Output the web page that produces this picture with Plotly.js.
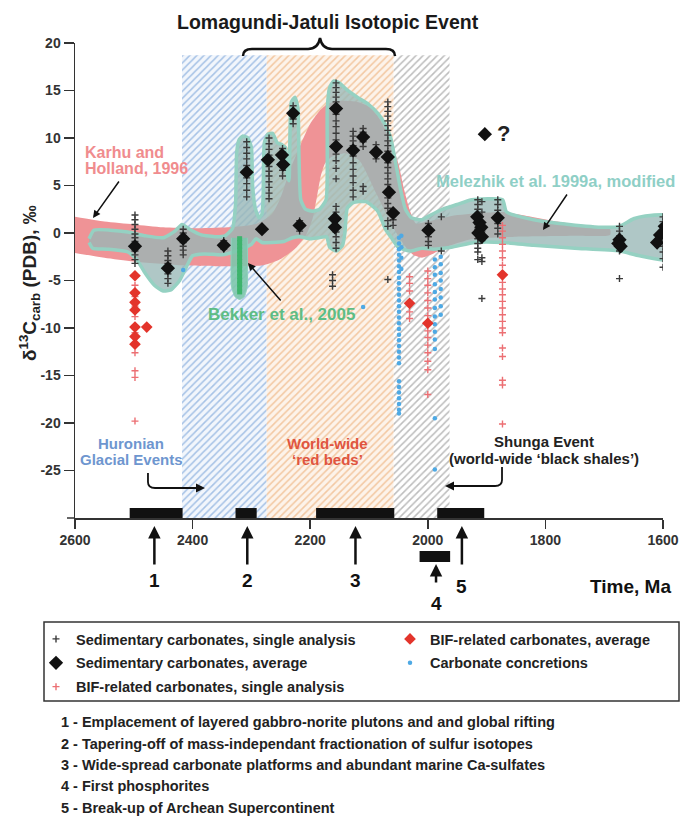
<!DOCTYPE html>
<html><head><meta charset="utf-8">
<script src="https://cdn.plot.ly/plotly-3.0.1.min.js"></script>
<style>html,body{margin:0;padding:0;background:#fff;}#chart{width:686px;height:827px;}</style>
</head><body><div id="chart"></div>
<script>
// ---------------- DATA ----------------
const xTicks = [2600, 2400, 2200, 2000, 1800, 1600];
const yTicks = [-25, -20, -15, -10, -5, 0, 5, 10, 15, 20];

// hatched time intervals (Ma)
const bandNames = ['Huronian Glacial Events', "World-wide 'red beds'", 'Shunga Event'];
const bandStart = [2418, 2274, 2058];
const bandEnd   = [2274, 2058, 1963];
const bandTop = 18.7;

// Karhu and Holland, 1996 envelope [age, d13C]
const karhuUpper = [[2600,1.7],[2550,1.2],[2500,0.9],[2450,0.6],[2400,0.5],[2340,0.6],[2290,1.0],[2265,2.0],[2250,3.8],[2235,6.5],[2215,9.5],[2200,11.5],[2185,12.8],[2170,13.6],[2150,13.9],[2120,13.8],[2100,13.3],[2085,12.3],[2072,10.8],[2062,9.5],[2050,7.3],[2040,4.5],[2030,2.3],[2020,1.0],[2000,1.2],[1960,1.8],[1910,2.1],[1873,2.2],[1840,1.9],[1780,1.2],[1720,0.6],[1690,0.4]];
const karhuLower = [[2600,-2.1],[2550,-2.6],[2500,-3.0],[2420,-3.4],[2350,-3.5],[2280,-3.4],[2252,-2.8],[2225,-1.6],[2207,-0.2],[2196,1.5],[2188,4.0],[2182,6.0],[2175,7.3],[2164,8.0],[2140,8.4],[2116,7.6],[2088,4.2],[2060,0.7],[2040,-1.3],[2025,-2.3],[2010,-2.6],[1995,-2.3],[1970,-1.5],[1930,-0.7],[1850,-0.4],[1750,-0.3],[1690,-0.2]];

// Melezhik et al. 1999a (modified) envelope
const melUpper = [[2576,-0.6],[2568,0.3],[2540,0.3],[2510,0.1],[2480,-0.3],[2450,-0.5],[2430,0.2],[2418,0.9],[2405,0.4],[2385,-0.2],[2360,-0.4],[2345,-0.3],[2332,0.5],[2327,3.0],[2325,8.5],[2321,9.8],[2315,10.2],[2306,10.0],[2300,9.0],[2298,5.0],[2293,2.5],[2287,1.6],[2282,2.0],[2280,4.0],[2278,9.5],[2272,10.4],[2264,10.5],[2256,9.5],[2248,9.3],[2242,9.0],[2239,6.0],[2236,5.5],[2235,8.0],[2232,13.8],[2226,14.3],[2221,13.2],[2219,8.0],[2216,3.5],[2208,2.5],[2196,2.3],[2184,2.5],[2173,3.5],[2171,13.0],[2167,15.3],[2160,16.0],[2150,15.8],[2140,15.2],[2120,14.3],[2100,13.5],[2085,12.6],[2073,11.5],[2063,10.0],[2055,7.5],[2046,4.5],[2038,2.5],[2028,1.6],[2010,1.4],[1995,1.9],[1975,2.5],[1950,3.0],[1925,3.5],[1873,3.5],[1866,2.2],[1820,1.4],[1760,0.9],[1700,0.6],[1674,0.7],[1650,1.5],[1630,1.8],[1590,1.8]];
const melLower = [[2576,-1.0],[2570,-1.6],[2545,-1.7],[2510,-2.0],[2495,-2.8],[2480,-4.3],[2465,-5.5],[2450,-6.1],[2437,-6.0],[2422,-5.0],[2410,-3.5],[2400,-2.4],[2380,-2.2],[2350,-2.3],[2330,-2.0],[2310,-1.5],[2300,-1.2],[2292,-0.6],[2282,-1.0],[2265,-1.0],[2245,-0.9],[2230,-0.5],[2218,-0.4],[2200,-0.6],[2185,-0.5],[2172,-0.4],[2167,-1.5],[2155,-1.9],[2145,-1.3],[2141,0.0],[2137,2.6],[2127,3.2],[2105,3.3],[2085,2.3],[2072,0.4],[2062,-0.5],[2050,-1.5],[2030,-1.9],[2010,-1.6],[1990,-1.7],[1960,-1.5],[1920,-1.0],[1873,-1.0],[1820,-1.3],[1750,-1.6],[1674,-1.9],[1640,-2.4],[1590,-2.8]];

// Bekker et al., 2005
const bekkerFinger = [[2334,-0.5],[2334,-5.6],[2328,-6.7],[2320,-7.0],[2312,-6.7],[2307,-5.6],[2307,-0.5]];
const bekkerAge = 2320;
const bekkerValues = [-0.6,-1.0,-1.4,-1.8,-2.2,-2.6,-3.0,-3.4,-3.8,-4.2,-4.6,-5.0,-5.4,-5.8,-6.2];

// Sedimentary carbonates, single analysis (columns by age)
const sedSingleAges = [2498,2442,2416,2347,2308,2270,2247,2229,2218,2156,2162,2127,2110,2088,2068,2059,1999,1977,1915,1908,1881,1674,1600];
const sedSingleValues = [
  [1.9,1.4,0.9,0.4,-0.1,-0.5,-0.9,-1.9,-2.3,-2.8,-3.2],
  [-1.9,-2.4,-2.9,-3.2,-4.3,-4.8,-5.3],
  [0.4,0.0,-0.3,-1.0,-1.4,-1.8,-2.3],
  [-0.8,-1.7],
  [9.6,9.0,8.4,7.8,7.1,5.8,5.2,4.5,3.8],
  [10.0,9.4,8.8,8.2,7.0,6.5,6.0,5.4,4.8,4.2,3.6],
  [8.9,8.5,6.6,6.0],
  [13.4,12.0,11.5],
  [1.3,0.2],
  [15.8,15.3,14.8,14.3,13.8,12.5,11.8,11.2,10.5,9.8,8.3,7.6,6.8,5.7,2.8,2.2,1.6,0.1,-0.4,-1.0,-1.6],
  [-4.4,-5.0,-5.6],
  [10.7,10.2,9.7,9.2,8.1,7.4,6.7,6.0,5.3,4.5,3.8],
  [11.0,10.6,9.6,9.1,4.9,4.4],
  [9.3,7.8],
  [13.8,13.3,12.8,12.3,11.8,11.3,10.8,10.3,9.7,9.2,8.6,7.4,6.9,6.3,5.7,5.1,3.7,3.1,2.6,1.3,0.7,-4.9],
  [1.4,0.8],
  [1.0,-0.4,-0.9,-1.3],
  [1.7,-1.9],
  [3.5,3.0,2.5,2.0,1.4,0.9,0.4,-0.1,-0.6,-1.1,-1.6,-2.0,-2.8],
  [3.3,2.2,0.2,-0.8,-2.6,-3.0,-6.9],
  [3.5,3.0,2.4,1.0,0.5,-0.1],
  [0.7,0.2,-0.3,-1.9,-4.8],
  [1.7,1.2,0.2,-0.5,-1.4,-2.0,-2.7,-3.6]
];

// Sedimentary carbonates, average
const sedAvgAge = [2498,2442,2416,2347,2308,2282,2272,2248,2246,2229,2218,2156,2156,2158,2158,2127,2110,2088,2068,2066,2059,1999,1916,1912,1909,1914,1908,1881,1674,1676,1672,1597,1605,1610,1903];
const sedAvgVal = [-1.4,-3.7,-0.6,-1.3,6.4,0.4,7.7,8.2,7.2,12.6,0.8,13.1,9.1,1.5,0.6,8.7,10.1,8.5,8.0,4.3,2.1,0.3,1.7,1.1,0.6,0.0,-0.4,1.6,-0.7,-1.1,-1.4,0.7,-0.2,-1.0,10.4];

// BIF-related carbonates, single analysis
const bifSingleAges = [2498,2031,2000,1873];
const bifSingleValues = [
  [-5.5,-6.7,-7.7,-8.8,-10.5,-12.6,-14.5,-15.2,-19.8],
  [-4.6,-5.3,-6.1,-8.3,-9.0],
  [-4.0,-4.8,-5.5,-6.3,-7.1,-7.9,-8.7,-10.3,-11.0,-11.8,-12.6,-13.5,-14.4,-17.0],
  [0.8,0.2,-0.5,-1.2,-1.9,-2.6,-3.4,-5.2,-5.9,-6.5,-7.2,-7.9,-8.6,-9.3,-10.0,-10.5,-12.1,-13.0,-15.5,-16.0,-20.1]
];

// BIF-related carbonates, average
const bifAvgAge = [2498,2498,2498,2498,2498,2498,2498,2478,2031,2000,1873];
const bifAvgVal = [-4.5,-6.3,-7.3,-8.1,-9.9,-10.9,-11.7,-9.9,-7.4,-9.5,-4.4];

// Carbonate concretions
const concAges = [2049,2045,1988,1978,2110,2416];
const concValues = [
  [-0.5,-1.1,-1.7,-2.3,-2.9,-3.5,-4.1,-4.7,-5.3,-5.9,-6.5,-7.1,-7.7,-8.3,-8.9,-9.5,-10.1,-10.7,-11.3,-11.9,-12.5,-13.1,-13.7,-15.6,-16.2,-16.8,-17.4,-18.0,-18.6,-19.0],
  [-0.3,-1.5,-2.6,-3.8],
  [-2.8,-3.6,-4.4,-5.4,-6.2,-7.0,-7.9,-8.8,-9.6,-10.4,-11.2,-12.2,-19.5,-24.9],
  [-2.5,-3.3,-4.2,-5.0,-5.9,-6.8,-7.7,-8.6],
  [-7.8],
  [-3.9]
];

// Event bars along the time axis and numbered arrows
const eventBarStart = [2507, 2327, 2190, 1984];
const eventBarEnd   = [2417, 2291, 2057, 1904];
const phosphoriteBar = [2014, 1962];
const eventArrowAge = [2465, 2307, 2123, 1986, 1942];
const eventLabels = ['1', '2', '3', '4', '5'];

const legendNames = ['Sedimentary carbonates, single analysis', 'Sedimentary carbonates, average', 'BIF-related carbonates, single analysis', 'BIF-related carbonates, average', 'Carbonate concretions'];
const noteLines = [
  '1 - Emplacement of layered gabbro-norite plutons and and global rifting',
  '2 - Tapering-off of mass-independant fractionation of sulfur isotopes',
  '3 - Wide-spread carbonate platforms and abundant marine Ca-sulfates',
  '4 - First phosphorites',
  '5 - Break-up of Archean Supercontinent'
];

// ---------------- HELPERS ----------------
const FONT = "'Liberation Sans', Arial, sans-serif";
const PX0 = 75, PX1 = 663, PY0 = 43, PY1 = 518;   // plot area in pixels
const px2paperX = px => (px - PX0) / (PX1 - PX0);
const px2paperY = py => (PY1 - py) / (PY1 - PY0);
const age2paperX = a => (2600 - a) / 1000;

function flatten(ages, cols) {
  const x = [], y = [];
  ages.forEach((a, i) => cols[i].forEach(v => { x.push(a); y.push(v); }));
  return {x, y};
}

const traces = [];
// hatched bands
const bandPatterns = [
  {fg:'#a6c2e6', bg:'#f2f6fc'},
  {fg:'#f3c8a2', bg:'#fdf3ea'},
  {fg:'#bdbdbd', bg:'#ffffff'}
];
bandNames.forEach((n, i) => {
  traces.push({
    type:'bar', name:n, x:[(bandStart[i] + bandEnd[i]) / 2], y:[bandTop + 30], base:[-30],
    width:[bandStart[i] - bandEnd[i]], showlegend:false, hoverinfo:'skip',
    marker:{line:{width:0}, pattern:{shape:'/', fgcolor:bandPatterns[i].fg, bgcolor:bandPatterns[i].bg, size:5, solidity:0.3, fillmode:'replace'}}
  });
});

// Karhu & Holland
const kPts = karhuUpper.concat(karhuLower.slice().reverse());
traces.push({type:'scatter', mode:'lines', x:kPts.map(p=>p[0]), y:kPts.map(p=>p[1]), fill:'toself',
  fillcolor:'#ef9396', line:{width:0, color:'#ef9396', shape:'spline', smoothing:0.6}, showlegend:false, hoverinfo:'skip'});
// Melezhik envelope
const mPts = melUpper.concat(melLower.slice().reverse());
traces.push({type:'scatter', mode:'lines', x:mPts.map(p=>p[0]), y:mPts.map(p=>p[1]), fill:'toself',
  fillcolor:'rgba(153,183,182,0.78)', line:{width:3.5, color:'#95d1c2', shape:'spline', smoothing:0.5}, showlegend:false, hoverinfo:'skip'});
// Bekker finger
traces.push({type:'scatter', mode:'lines', x:bekkerFinger.map(p=>p[0]), y:bekkerFinger.map(p=>p[1]), fill:'toself',
  fillcolor:'rgba(125,198,172,0.9)', line:{width:1, color:'#8fd0bd', shape:'spline', smoothing:0.5}, showlegend:false, hoverinfo:'skip'});

const sedS = flatten(sedSingleAges, sedSingleValues);
const bifS = flatten(bifSingleAges, bifSingleValues);
const conc = flatten(concAges, concValues);

traces.push({type:'scatter', mode:'markers', name:legendNames[0], x:sedS.x, y:sedS.y, legend:'legend', legendgroup:'a', legendrank:1,
  marker:{symbol:'cross-thin', size:5, line:{width:1.4, color:'#3b3b3b'}, color:'#3b3b3b'}});
traces.push({type:'scatter', mode:'markers', name:legendNames[2], x:bifS.x, y:bifS.y, legend:'legend', legendgroup:'c', legendrank:3,
  marker:{symbol:'cross-thin', size:5, line:{width:1.4, color:'#ec6f73'}, color:'#ec6f73'}});
traces.push({type:'scatter', mode:'markers', name:legendNames[4], x:conc.x, y:conc.y, legend:'legend2', legendgroup:'e', legendrank:5,
  marker:{symbol:'circle', size:4.5, color:'#4ea9e4'}});
traces.push({type:'scatter', mode:'markers', name:'Bekker et al., 2005', x:bekkerValues.map(()=>bekkerAge), y:bekkerValues, showlegend:false,
  marker:{symbol:'square', size:5, color:'#3db46c'}});
traces.push({type:'scatter', mode:'markers', name:legendNames[1], x:sedAvgAge, y:sedAvgVal, legend:'legend', legendgroup:'b', legendrank:2,
  marker:{symbol:'diamond', size:11, color:'#111111'}});
traces.push({type:'scatter', mode:'markers', name:legendNames[3], x:bifAvgAge, y:bifAvgVal, legend:'legend2', legendgroup:'d', legendrank:4,
  marker:{symbol:'diamond', size:9, color:'#e3342b'}});

// ---------------- SHAPES ----------------
const shapes = [];
eventBarStart.forEach((s, i) => shapes.push({type:'rect', xref:'x', yref:'y', x0:s, x1:eventBarEnd[i], y0:-30, y1:-28.95,
  fillcolor:'#111', line:{width:0}, layer:'above'}));
shapes.push({type:'rect', xref:'x', yref:'paper', x0:phosphoriteBar[0], x1:phosphoriteBar[1],
  y0:px2paperY(562), y1:px2paperY(551), fillcolor:'#111', line:{width:0}});
// legend frame
shapes.push({type:'rect', xref:'paper', yref:'paper', x0:px2paperX(44), x1:px2paperX(679), y0:px2paperY(701), y1:px2paperY(622),
  line:{color:'#333', width:1.5}, fillcolor:'rgba(0,0,0,0)'});
// x-axis stub left of y axis
shapes.push({type:'line', xref:'paper', yref:'paper', x0:px2paperX(67), x1:0, y0:0, y1:0, line:{color:'#333', width:1.5}});
// brace above the Lomagundi-Jatuli interval
const P = (x, y) => px2paperX(x).toFixed(4) + ',' + px2paperY(y).toFixed(4);
shapes.push({type:'path', xref:'paper', yref:'paper',
  path:'M' + P(243,56) + ' Q' + P(243,49) + ' ' + P(252,49) + ' L' + P(308,49) + ' Q' + P(318,49) + ' ' + P(320,38) +
       ' Q' + P(322,49) + ' ' + P(332,49) + ' L' + P(386,49) + ' Q' + P(395,49) + ' ' + P(395,56),
  line:{color:'#111', width:2.5}});
// hooked arrows
shapes.push({type:'path', xref:'paper', yref:'paper',
  path:'M' + P(148,473) + ' L' + P(148,482) + ' Q' + P(148,488) + ' ' + P(155,488) + ' L' + P(192,488),
  line:{color:'#111', width:1.8}});
shapes.push({type:'path', xref:'paper', yref:'paper',
  path:'M' + P(502,467) + ' L' + P(502,480) + ' Q' + P(502,486) + ' ' + P(495,486) + ' L' + P(458,486),
  line:{color:'#111', width:1.8}});

// ---------------- ANNOTATIONS ----------------
const ann = [];
function txt(text, x, y, size, color, xanchor, weight, angle) {
  ann.push({text, xref:'paper', yref:'paper', x:px2paperX(x), y:px2paperY(y), xanchor:xanchor || 'center', yanchor:'middle',
    textangle: angle || 0, showarrow:false, font:{family:FONT, size, color, weight: weight || 700}});
}
function arrow(hx, hy, ax, ay, width, size) {
  ann.push({text:'', xref:'paper', yref:'paper', x:px2paperX(hx), y:px2paperY(hy), ax, ay, showarrow:true,
    arrowhead:2, arrowsize:size || 1, arrowwidth:width || 1.5, arrowcolor:'#111'});
}
txt('Lomagundi-Jatuli Isotopic Event', 328, 22, 19.5, '#1a1a1a');
txt('δ<sup>13</sup>C<sub>carb</sub> (PDB), ‰', 29, 283, 19, '#222', 'center', 700, -90);
txt('Karhu and', 83, 152, 16, '#f08c8e', 'left');
txt('Holland, 1996', 83, 168, 16, '#f08c8e', 'left');
arrow(93, 218, 27, -38, 1.5, 1);
txt('Bekker et al., 2005', 281, 314, 17, '#5dbd85');
arrow(248, 263, 34, 39, 1.5, 1);
txt('Melezhik et al. 1999a, modified', 555, 181, 16.5, '#8fcfc6');
arrow(543, 230, 25, -37, 1.5, 1);
txt('?', 503, 133, 22, '#222');
txt('Huronian', 131, 443, 15, '#6e96cf');
txt('Glacial Events', 131, 459, 15, '#6e96cf');
arrow(205, 488, -16, 0, 1.8, 1);
txt('World-wide', 327, 443, 15, '#e0553f');
txt('‘red beds’', 327, 459, 15, '#e0553f');
txt('Shunga Event', 544, 441, 15, '#222');
txt('(world-wide ‘black shales’)', 544, 458, 15, '#222');
arrow(445, 486, 16, 0, 1.8, 1);
// numbered arrows
eventArrowAge.forEach((a, i) => {
  const isFour = i === 3;
  ann.push({text:'', xref:'paper', yref:'paper', x:age2paperX(a), y:px2paperY(isFour ? 564 : 526), ax:0, ay:isFour ? 20 : 40,
    showarrow:true, arrowhead:2, arrowsize:1, arrowwidth:2.5, arrowcolor:'#111'});
  ann.push({text:eventLabels[i], xref:'paper', yref:'paper', x:age2paperX(a), y:px2paperY(isFour ? 603 : (i === 4 ? 586 : 580)),
    xanchor:'center', yanchor:'middle', showarrow:false, font:{family:FONT, size:19, color:'#111', weight:700}});
});
txt('Time, Ma', 673, 586, 19, '#111', 'right');
noteLines.forEach((t, i) => txt(t, 59, 722 + i * 21.5, 14.5, '#222', 'left'));

// ---------------- LAYOUT ----------------
const legendFont = {family:FONT, size:14.5, color:'#222', weight:700};
const layout = {
  width:686, height:827,
  margin:{l:75, r:23, t:43, b:309, pad:0},
  paper_bgcolor:'#ffffff', plot_bgcolor:'rgba(0,0,0,0)',
  barmode:'overlay', showlegend:true,
  font:{family:FONT, color:'#222'},
  xaxis:{range:[2600,1600], tickvals:xTicks, ticktext:xTicks.map(String), ticks:'outside', ticklen:9, tickwidth:1.5,
    tickcolor:'#333', showline:true, linewidth:1.5, linecolor:'#333', showgrid:false, zeroline:false,
    tickfont:{family:FONT, size:14, color:'#333', weight:700}},
  yaxis:{range:[-30,20], tickvals:yTicks, ticktext:yTicks.map(String), ticks:'outside', ticklen:10, tickwidth:1.5,
    tickcolor:'#333', showline:true, linewidth:1.5, linecolor:'#333', showgrid:false, zeroline:false,
    tickfont:{family:FONT, size:14, color:'#333', weight:700}},
  legend:{x:px2paperX(36), y:px2paperY(623), xanchor:'left', yanchor:'top', orientation:'v', bgcolor:'rgba(0,0,0,0)',
    borderwidth:0, tracegroupgap:2, font:legendFont},
  legend2:{x:px2paperX(390), y:px2paperY(623), xanchor:'left', yanchor:'top', orientation:'v', bgcolor:'rgba(0,0,0,0)',
    borderwidth:0, tracegroupgap:2, font:legendFont},
  shapes, annotations:ann
};

Plotly.newPlot('chart', traces, layout, {displayModeBar:false, staticPlot:true});
</script></body></html>
